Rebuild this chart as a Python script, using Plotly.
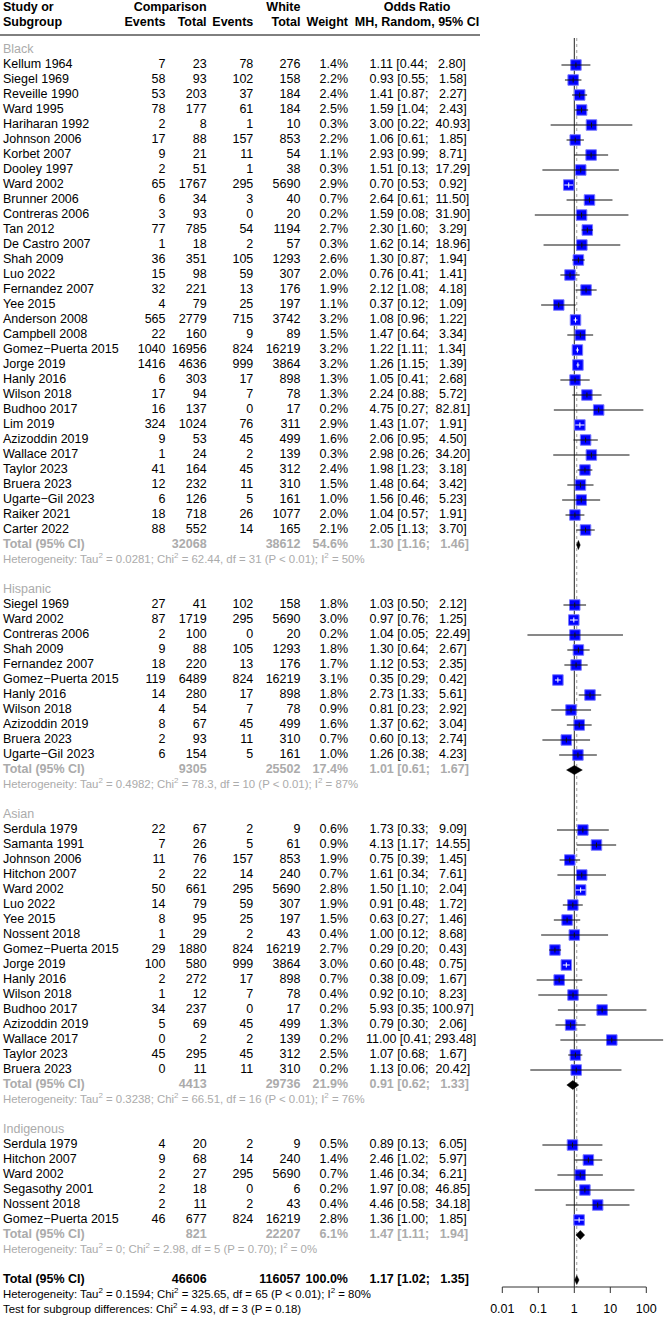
import math
import plotly.graph_objects as go

# ------------------------------------------------------------------ data
groups = ["Black", "Hispanic", "Asian", "Indigenous"]

black_study = ["Kellum 1964", "Siegel 1969", "Reveille 1990", "Ward 1995", "Hariharan 1992", "Johnson 2006",
               "Korbet 2007", "Dooley 1997", "Ward 2002", "Brunner 2006", "Contreras 2006", "Tan 2012",
               "De Castro 2007", "Shah 2009", "Luo 2022", "Fernandez 2007", "Yee 2015", "Anderson 2008",
               "Campbell 2008", "Gomez\u2212Puerta 2015", "Jorge 2019", "Hanly 2016", "Wilson 2018", "Budhoo 2017",
               "Lim 2019", "Azizoddin 2019", "Wallace 2017", "Taylor 2023", "Bruera 2023", "Ugarte\u2212Gil 2023",
               "Raiker 2021", "Carter 2022"]
black_ev_c = [7, 58, 53, 78, 2, 17, 9, 2, 65, 6, 3, 77, 1, 36, 15, 32, 4, 565, 22, 1040, 1416, 6, 17, 16, 324, 9, 1, 41, 12, 6, 18, 88]
black_n_c = [23, 93, 203, 177, 8, 88, 21, 51, 1767, 34, 93, 785, 18, 351, 98, 221, 79, 2779, 160, 16956, 4636, 303, 94, 137, 1024, 53, 24, 164, 232, 126, 718, 552]
black_ev_w = [78, 102, 37, 61, 1, 157, 11, 1, 295, 3, 0, 54, 2, 105, 59, 13, 25, 715, 9, 824, 999, 17, 7, 0, 76, 45, 2, 45, 11, 5, 26, 14]
black_n_w = [276, 158, 184, 184, 10, 853, 54, 38, 5690, 40, 20, 1194, 57, 1293, 307, 176, 197, 3742, 89, 16219, 3864, 898, 78, 17, 311, 499, 139, 312, 310, 161, 1077, 165]
black_weight = [1.4, 2.2, 2.4, 2.5, 0.3, 2.2, 1.1, 0.3, 2.9, 0.7, 0.2, 2.7, 0.3, 2.6, 2.0, 1.9, 1.1, 3.2, 1.5, 3.2, 3.2, 1.3, 1.3, 0.2, 2.9, 1.6, 0.3, 2.4, 1.5, 1.0, 2.0, 2.1]
black_or = [1.11, 0.93, 1.41, 1.59, 3.00, 1.06, 2.93, 1.51, 0.70, 2.64, 1.59, 2.30, 1.62, 1.30, 0.76, 2.12, 0.37, 1.08, 1.47, 1.22, 1.26, 1.05, 2.24, 4.75, 1.43, 2.06, 2.98, 1.98, 1.48, 1.56, 1.04, 2.05]
black_lo = [0.44, 0.55, 0.87, 1.04, 0.22, 0.61, 0.99, 0.13, 0.53, 0.61, 0.08, 1.60, 0.14, 0.87, 0.41, 1.08, 0.12, 0.96, 0.64, 1.11, 1.15, 0.41, 0.88, 0.27, 1.07, 0.95, 0.26, 1.23, 0.64, 0.46, 0.57, 1.13]
black_hi = [2.80, 1.58, 2.27, 2.43, 40.93, 1.85, 8.71, 17.29, 0.92, 11.50, 31.90, 3.29, 18.96, 1.94, 1.41, 4.18, 1.09, 1.22, 3.34, 1.34, 1.39, 2.68, 5.72, 82.81, 1.91, 4.50, 34.20, 3.18, 3.42, 5.23, 1.91, 3.70]

hisp_study = ["Siegel 1969", "Ward 2002", "Contreras 2006", "Shah 2009", "Fernandez 2007", "Gomez\u2212Puerta 2015",
              "Hanly 2016", "Wilson 2018", "Azizoddin 2019", "Bruera 2023", "Ugarte\u2212Gil 2023"]
hisp_ev_c = [27, 87, 2, 9, 18, 119, 14, 4, 8, 2, 6]
hisp_n_c = [41, 1719, 100, 88, 220, 6489, 280, 54, 67, 93, 154]
hisp_ev_w = [102, 295, 0, 105, 13, 824, 17, 7, 45, 11, 5]
hisp_n_w = [158, 5690, 20, 1293, 176, 16219, 898, 78, 499, 310, 161]
hisp_weight = [1.8, 3.0, 0.2, 1.8, 1.7, 3.1, 1.8, 0.9, 1.6, 0.7, 1.0]
hisp_or = [1.03, 0.97, 1.04, 1.30, 1.12, 0.35, 2.73, 0.81, 1.37, 0.60, 1.26]
hisp_lo = [0.50, 0.76, 0.05, 0.64, 0.53, 0.29, 1.33, 0.23, 0.62, 0.13, 0.38]
hisp_hi = [2.12, 1.25, 22.49, 2.67, 2.35, 0.42, 5.61, 2.92, 3.04, 2.74, 4.23]

asian_study = ["Serdula 1979", "Samanta 1991", "Johnson 2006", "Hitchon 2007", "Ward 2002", "Luo 2022", "Yee 2015",
               "Nossent 2018", "Gomez\u2212Puerta 2015", "Jorge 2019", "Hanly 2016", "Wilson 2018", "Budhoo 2017",
               "Azizoddin 2019", "Wallace 2017", "Taylor 2023", "Bruera 2023"]
asian_ev_c = [22, 7, 11, 2, 50, 14, 8, 1, 29, 100, 2, 1, 34, 5, 0, 45, 0]
asian_n_c = [67, 26, 76, 22, 661, 79, 95, 29, 1880, 580, 272, 12, 237, 69, 2, 295, 11]
asian_ev_w = [2, 5, 157, 14, 295, 59, 25, 2, 824, 999, 17, 7, 0, 45, 2, 45, 11]
asian_n_w = [9, 61, 853, 240, 5690, 307, 197, 43, 16219, 3864, 898, 78, 17, 499, 139, 312, 310]
asian_weight = [0.6, 0.9, 1.9, 0.7, 2.8, 1.9, 1.5, 0.4, 2.7, 3.0, 0.7, 0.4, 0.2, 1.3, 0.2, 2.5, 0.2]
asian_or = [1.73, 4.13, 0.75, 1.61, 1.50, 0.91, 0.63, 1.00, 0.29, 0.60, 0.38, 0.92, 5.93, 0.79, 11.00, 1.07, 1.13]
asian_lo = [0.33, 1.17, 0.39, 0.34, 1.10, 0.48, 0.27, 0.12, 0.20, 0.48, 0.09, 0.10, 0.35, 0.30, 0.41, 0.68, 0.06]
asian_hi = [9.09, 14.55, 1.45, 7.61, 2.04, 1.72, 1.46, 8.68, 0.43, 0.75, 1.67, 8.23, 100.97, 2.06, 293.48, 1.67, 20.42]

indig_study = ["Serdula 1979", "Hitchon 2007", "Ward 2002", "Segasothy 2001", "Nossent 2018", "Gomez\u2212Puerta 2015"]
indig_ev_c = [4, 9, 2, 2, 2, 46]
indig_n_c = [20, 68, 27, 18, 11, 677]
indig_ev_w = [2, 14, 295, 0, 2, 824]
indig_n_w = [9, 240, 5690, 6, 43, 16219]
indig_weight = [0.5, 1.4, 0.7, 0.2, 0.4, 2.8]
indig_or = [0.89, 2.46, 1.46, 1.97, 4.46, 1.36]
indig_lo = [0.13, 1.02, 0.34, 0.08, 0.58, 1.00]
indig_hi = [6.05, 5.97, 6.21, 46.85, 34.18, 1.85]

# subgroup summaries
sub_n_c = [32068, 9305, 4413, 821]
sub_n_w = [38612, 25502, 29736, 22207]
sub_weight = [54.6, 17.4, 21.9, 6.1]
sub_or = [1.30, 1.01, 0.91, 1.47]
sub_lo = [1.16, 0.61, 0.62, 1.11]
sub_hi = [1.46, 1.67, 1.33, 1.94]
sub_tau2 = ["0.0281", "0.4982", "0.3238", "0"]
sub_chi2 = ["62.44", "78.3", "66.51", "2.98"]
sub_df = [31, 10, 16, 5]
sub_p = ["P < 0.01", "P < 0.01", "P < 0.01", "P = 0.70"]
sub_i2 = [50, 87, 76, 0]

# overall
all_n_c = 46606
all_n_w = 116057
all_weight = 100.0
all_or = 1.17
all_lo = 1.02
all_hi = 1.35
all_tau2 = "0.1594"
all_chi2 = "325.65"
all_df = 65
all_p = "P < 0.01"
all_i2 = 80
test_chi2 = "4.93"
test_df = 3
test_p = "P = 0.18"

tick_vals = [0.01, 0.1, 1, 10, 100]
tick_text = ["0.01", "0.1", "1", "10", "100"]

# ------------------------------------------------------------------ layout helpers
W, H = 667, 1319
FONT = "Liberation Sans, Arial, Helvetica, sans-serif"
GREY = "#ABABAB"
FS = 12.5
FS_SMALL = 11.4
ROW0 = 50      # y of first subgroup label
DY = 15        # row spacing

X_STUDY = 3
X_EVC = 165.5
X_NC = 206.6
X_EVW = 253.3
X_NW = 300.4
X_WT = 348
X_OR = 366
X_ORHEAD = 417
X_FOREST = 573
# forest axis: 1 at px 574.3, 36 px per decade
PX1 = 574.3
PPD = 36.0

study_sets = [
    (black_study, black_ev_c, black_n_c, black_ev_w, black_n_w, black_weight, black_or, black_lo, black_hi),
    (hisp_study, hisp_ev_c, hisp_n_c, hisp_ev_w, hisp_n_w, hisp_weight, hisp_or, hisp_lo, hisp_hi),
    (asian_study, asian_ev_c, asian_n_c, asian_ev_w, asian_n_w, asian_weight, asian_or, asian_lo, asian_hi),
    (indig_study, indig_ev_c, indig_n_c, indig_ev_w, indig_n_w, indig_weight, indig_or, indig_lo, indig_hi),
]

NB = "\u00a0"


def ci_text(e, l, h):
    s = f"{e:.2f}".rjust(5) + " [" + f"{l:.2f}".rjust(4) + "; " + f"{h:.2f}".rjust(6) + "]"
    return s.replace(" ", NB)


cols = {}


def add_text(key, x, y, t):
    cols.setdefault(key, {"x": [], "y": [], "t": []})
    cols[key]["x"].append(x)
    cols[key]["y"].append(y)
    cols[key]["t"].append(t)


sq_x, sq_y = [], []
line_black_x, line_black_y = [], []
line_white_x, line_white_y = [], []
tick_b_x, tick_b_y, tick_w_x, tick_w_y = [], [], [], []
diamonds = []

half_sq = 5.5 / PPD  # half square width in decades

y = ROW0
for gi, g in enumerate(groups):
    st, evc, nc, evw, nw, wt, orr, lo, hi = study_sets[gi]
    add_text(("left", FS, GREY, False), X_STUDY, y, g)
    y += DY
    for i in range(len(st)):
        add_text(("left", FS, "black", False), X_STUDY, y, st[i])
        add_text(("right", FS, "black", False), X_EVC, y, str(evc[i]))
        add_text(("right", FS, "black", False), X_NC, y, str(nc[i]))
        add_text(("right", FS, "black", False), X_EVW, y, str(evw[i]))
        add_text(("right", FS, "black", False), X_NW, y, str(nw[i]))
        add_text(("right", FS, "black", False), X_WT, y, f"{wt[i]:.1f}%")
        add_text(("left", FS, "black", False), X_OR, y, ci_text(orr[i], lo[i], hi[i]))
        sq_x.append(orr[i])
        sq_y.append(y)
        inside = (math.log10(hi[i] / orr[i]) < half_sq) and (math.log10(orr[i] / lo[i]) < half_sq)
        if inside:
            line_white_x += [lo[i], hi[i], None]
            line_white_y += [y, y, None]
            tick_w_x += [orr[i], orr[i], None]
            tick_w_y += [y - 2.5, y + 2.5, None]
        else:
            line_black_x += [lo[i], hi[i], None]
            line_black_y += [y, y, None]
            tick_b_x += [orr[i], orr[i], None]
            tick_b_y += [y - 2.5, y + 2.5, None]
        y += DY
    add_text(("left", FS, GREY, True), X_STUDY, y, "Total (95% CI)")
    add_text(("right", FS, GREY, True), X_NC, y, str(sub_n_c[gi]))
    add_text(("right", FS, GREY, True), X_NW, y, str(sub_n_w[gi]))
    add_text(("right", FS, GREY, True), X_WT, y, f"{sub_weight[gi]:.1f}%")
    add_text(("left", FS, GREY, True), X_OR, y, ci_text(sub_or[gi], sub_lo[gi], sub_hi[gi]))
    diamonds.append((sub_or[gi], sub_lo[gi], sub_hi[gi], y))
    y += DY
    het = (f"Heterogeneity: Tau<sup>2</sup> = {sub_tau2[gi]}; Chi<sup>2</sup> = {sub_chi2[gi]}, "
           f"df = {sub_df[gi]} ({sub_p[gi]}); I<sup>2</sup> = {sub_i2[gi]}%")
    add_text(("left", FS_SMALL, GREY, False), X_STUDY, y, het)
    y += 2 * DY

add_text(("left", FS, "black", True), X_STUDY, y, "Total (95% CI)")
add_text(("right", FS, "black", True), X_NC, y, str(all_n_c))
add_text(("right", FS, "black", True), X_NW, y, str(all_n_w))
add_text(("right", FS, "black", True), X_WT, y, f"{all_weight:.1f}%")
add_text(("left", FS, "black", True), X_OR, y, ci_text(all_or, all_lo, all_hi))
diamonds.append((all_or, all_lo, all_hi, y))
y += DY
add_text(("left", FS_SMALL, "black", False), X_STUDY, y,
         f"Heterogeneity: Tau<sup>2</sup> = {all_tau2}; Chi<sup>2</sup> = {all_chi2}, df = {all_df} ({all_p}); "
         f"I<sup>2</sup> = {all_i2}%")
y += DY
add_text(("left", FS_SMALL, "black", False), X_STUDY, y,
         f"Test for subgroup differences: Chi<sup>2</sup> = {test_chi2}, df = {test_df} ({test_p})")
y_test = y

HY1, HY2, HLINE = 8, 23, 35
add_text(("left", FS, "black", True), X_STUDY, HY1, "Study or")
add_text(("left", FS, "black", True), X_STUDY, HY2, "Subgroup")
add_text(("right", FS, "black", True), X_NC, HY1, "Comparison")
add_text(("right", FS, "black", True), X_EVC, HY2, "Events")
add_text(("right", FS, "black", True), X_NC, HY2, "Total")
add_text(("right", FS, "black", True), X_EVW, HY2, "Events")
add_text(("right", FS, "black", True), X_NW, HY1, "White")
add_text(("right", FS, "black", True), X_NW, HY2, "Total")
add_text(("right", FS, "black", True), X_WT, HY2, "Weight")
add_text(("center", FS, "black", True), X_ORHEAD, HY1, "Odds Ratio")
add_text(("center", FS, "black", True), X_ORHEAD, HY2, "MH, Random, 95% CI")
add_text(("center", FS, "black", True), X_FOREST, HY1, "Odds Ratio")
add_text(("center", FS, "black", True), X_FOREST, HY2, "MH, Random, 95% CI")

# ------------------------------------------------------------------ figure
fig = go.Figure()

AXIS_Y = 1287
LINE_TOP = 38

fig.add_trace(go.Scatter(x=[0, W], y=[HLINE, HLINE], mode="lines", line=dict(color="black", width=1),
                         hoverinfo="skip", xaxis="x", yaxis="y"))

fig.add_trace(go.Scatter(x=[1, 1], y=[LINE_TOP, AXIS_Y], mode="lines", line=dict(color="#222222", width=1),
                         hoverinfo="skip", xaxis="x2", yaxis="y"))
fig.add_trace(go.Scatter(x=[all_or, all_or], y=[LINE_TOP, AXIS_Y], mode="lines",
                         line=dict(color="#9A9A9A", width=1, dash="dot"), hoverinfo="skip", xaxis="x2", yaxis="y"))

fig.add_trace(go.Scatter(x=sq_x, y=sq_y, mode="markers",
                         marker=dict(symbol="square", size=10.5, color="#0000FF",
                                     line=dict(color="#7A7AFF", width=1)),
                         hoverinfo="skip", xaxis="x2", yaxis="y"))
fig.add_trace(go.Scatter(x=line_black_x, y=line_black_y, mode="lines", line=dict(color="#111111", width=1),
                         hoverinfo="skip", xaxis="x2", yaxis="y"))
fig.add_trace(go.Scatter(x=line_white_x, y=line_white_y, mode="lines", line=dict(color="white", width=1),
                         hoverinfo="skip", xaxis="x2", yaxis="y"))
fig.add_trace(go.Scatter(x=tick_b_x, y=tick_b_y, mode="lines", line=dict(color="#111111", width=1),
                         hoverinfo="skip", xaxis="x2", yaxis="y"))
fig.add_trace(go.Scatter(x=tick_w_x, y=tick_w_y, mode="lines", line=dict(color="white", width=1),
                         hoverinfo="skip", xaxis="x2", yaxis="y"))

for (e, l, h, yy) in diamonds:
    fig.add_trace(go.Scatter(x=[l, e, h, e, l], y=[yy, yy - 4.5, yy, yy + 4.5, yy], mode="lines",
                             fill="toself", fillcolor="black", line=dict(color="black", width=0.5),
                             hoverinfo="skip", xaxis="x2", yaxis="y"))

fig.add_trace(go.Scatter(x=[tick_vals[0], tick_vals[-1]], y=[AXIS_Y, AXIS_Y], mode="lines",
                         line=dict(color="#333333", width=1), hoverinfo="skip", xaxis="x2", yaxis="y"))
tx, ty = [], []
for v in tick_vals:
    tx += [v, v, None]
    ty += [AXIS_Y, AXIS_Y + 6, None]
fig.add_trace(go.Scatter(x=tx, y=ty, mode="lines", line=dict(color="#333333", width=1),
                         hoverinfo="skip", xaxis="x2", yaxis="y"))
fig.add_trace(go.Scatter(x=tick_vals, y=[y_test] * len(tick_vals), mode="text", text=tick_text,
                         textposition="middle center", textfont=dict(family=FONT, size=FS, color="black"),
                         hoverinfo="skip", xaxis="x2", yaxis="y", cliponaxis=False))

pos_map = {"left": "middle right", "right": "middle left", "center": "middle center"}
for (align, size, color, bold), d in cols.items():
    texts = [f"<b>{t}</b>" for t in d["t"]] if bold else d["t"]
    fig.add_trace(go.Scatter(x=d["x"], y=d["y"], mode="text", text=texts, textposition=pos_map[align],
                             textfont=dict(family=FONT, size=size, color=color),
                             hoverinfo="skip", xaxis="x", yaxis="y", cliponaxis=False))

lo_log = (480 - PX1) / PPD
hi_log = (W - PX1) / PPD
fig.update_layout(
    width=W, height=H, margin=dict(l=0, r=0, t=0, b=0),
    paper_bgcolor="white", plot_bgcolor="white", showlegend=False,
    xaxis=dict(range=[0, W], domain=[0, 1], visible=False, fixedrange=True),
    xaxis2=dict(type="log", range=[lo_log, hi_log], domain=[480 / W, 1], anchor="y", visible=False,
                fixedrange=True),
    yaxis=dict(range=[H, 0], domain=[0, 1], visible=False, fixedrange=True),
)

fig.write_html("out.html", config={"displayModeBar": False, "staticPlot": True},
               post_script="document.body.style.margin='0';document.body.style.overflow='hidden';")
